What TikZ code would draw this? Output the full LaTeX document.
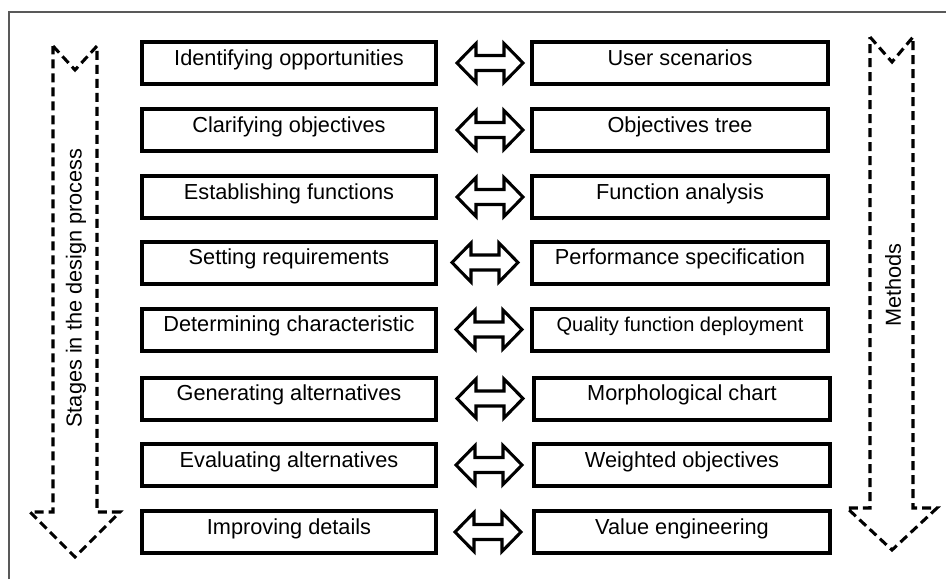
\documentclass[tikz,border=0pt]{standalone}
\usepackage{fontspec}
\setmainfont{Liberation Sans}
\begin{document}
\begin{tikzpicture}[x=0.75pt,y=-0.75pt,
  label font/.style={font=\fontsize{16.3}{19}\selectfont},
  stagebox/.style={draw, rectangle, line width=3pt, inner sep=0pt,
    text height=17.5pt, text depth=14pt, minimum width=220.5pt, label font},
  methodbox/.style={stagebox, minimum width=222pt},
  flowarrow/.style={draw, line width=2.3pt, dash pattern=on 6.75pt off 3.75pt},
  linkarrow/.style={draw, line width=2.3pt, line join=miter},
  frameline/.style={draw=black!65, line width=0.9pt},
  dblarrow/.pic={
    \draw[linkarrow] (-33,0) -- (-14,-19.5) -- (-14,-7.5) -- (14,-7.5)
      -- (14,-19.5) -- (33,0) -- (14,19.5) -- (14,7.5) -- (-14,7.5)
      -- (-14,19.5) -- cycle;
  }]
\useasboundingbox (0,0) rectangle (946,579);

% open frame
\draw[frameline] (9,579) -- (9,12) -- (946,12);

% stages (left column)
\node[stagebox] (s1) at (289,63)    {Identifying opportunities};
\node[stagebox] (s2) at (289,130)   {Clarifying objectives};
\node[stagebox] (s3) at (289,197)   {Establishing functions};
\node[stagebox] (s4) at (289,262.5) {Setting requirements};
\node[stagebox] (s5) at (289,329.5) {Determining characteristic};
\node[stagebox] (s6) at (289,398.5) {Generating alternatives};
\node[stagebox] (s7) at (289,465)   {Evaluating alternatives};
\node[stagebox] (s8) at (289,532)   {Improving details};

% methods (right column)
\node[methodbox] (m1) at (680,63)    {User scenarios};
\node[methodbox] (m2) at (680,130)   {Objectives tree};
\node[methodbox] (m3) at (680,197)   {Function analysis};
\node[methodbox] (m4) at (680,262.5) {Performance specification};
\node[methodbox, font=\fontsize{15}{18}\selectfont] (m5) at (680,329.5) {Quality function deployment};
\node[methodbox] (m6) at (682,398.5) {Morphological chart};
\node[methodbox] (m7) at (682,465)   {Weighted objectives};
\node[methodbox] (m8) at (682,532)   {Value engineering};

% two-way links between stage and method
\pic at (490,63)    {dblarrow};
\pic at (490,130)   {dblarrow};
\pic at (490,197)   {dblarrow};
\pic at (485,262.5) {dblarrow};
\pic at (489,329.5) {dblarrow};
\pic at (490,398.5) {dblarrow};
\pic at (489,465)   {dblarrow};
\pic at (488,532)   {dblarrow};

% downward flow arrows
\draw[flowarrow] (53,46) -- (75,70) -- (97,46) -- (97,512) -- (120,512)
  -- (75,557) -- (30,512) -- (53,512) -- cycle;
\draw[flowarrow] (870,37) -- (892,62) -- (913,37) -- (913,508) -- (937,508)
  -- (892,550) -- (847,508) -- (870,508) -- cycle;

\node[label font, rotate=90] (stages) at (76,288) {Stages in the design process};
\node[label font, rotate=90] (methods) at (893,285) {Methods};
\end{tikzpicture}
\end{document}
